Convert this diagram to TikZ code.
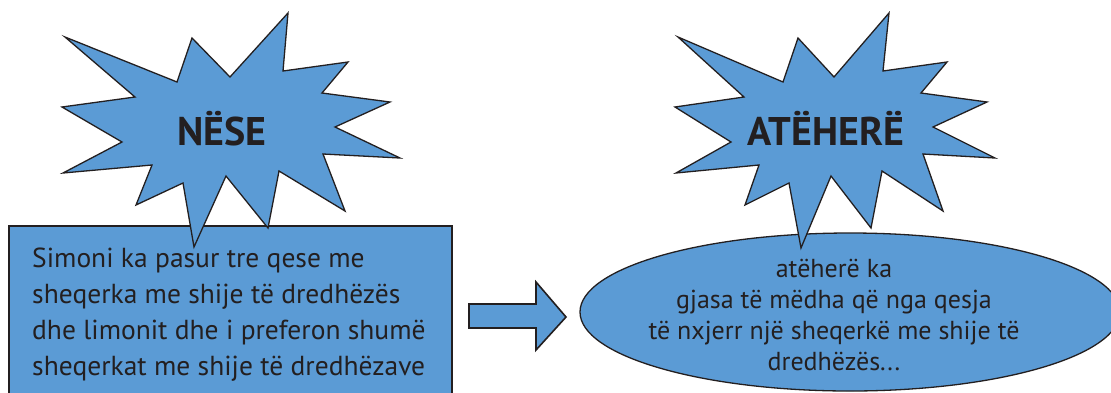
\documentclass[tikz,border=0pt]{standalone}
\usepackage{fontspec}
\setmainfont{PT Sans}
\definecolor{burstblue}{RGB}{91,155,213}
\definecolor{inkdark}{RGB}{35,31,32}
\tikzset{
  shapefill/.style={fill=burstblue, draw=inkdark, line width=1.3pt, line join=miter},
  headtext/.style={font=\fontsize{40}{40}\selectfont\bfseries, text=inkdark, inner sep=0pt},
  bodytext/.style={text=inkdark, inner sep=0pt}
}
\begin{document}
\begin{tikzpicture}[x=1pt,y=-1pt]
\clip (0,0) rectangle (1111,392);
\fill[white] (0,0) rectangle (1111,392);
% left box
\draw[shapefill] (9,226) -- (452,226) -- (452,400) -- (9,400) -- cycle;
% left starburst
\draw[shapefill] (65,37) -- (177,82) -- (192,38) -- (230,77) -- (288,13) -- (283,71)
  -- (348,62) -- (322,93) -- (390,102) -- (335,127) -- (400,158) -- (323,154)
  -- (345,211) -- (279,171) -- (268,228) -- (226,176) -- (194,247) -- (183,183)
  -- (136,205) -- (152,165) -- (63,173) -- (122,142) -- (62,107) -- (135,97) -- cycle;
\node[headtext, anchor=base] (nese) at (222,145) {NËSE};
\node[bodytext, anchor=base west, align=left, font=\fontsize{27.5}{35.7}\selectfont] (cond) at (32,375)
  {Simoni ka pasur tre qese me\\sheqerka me shije të dredhëzës\\dhe limonit dhe i preferon shumë\\sheqerkat me shije të dredhëzave};
% block arrow
\draw[shapefill, line width=1.6pt] (469,304) -- (536,304) -- (536,282) -- (566,317)
  -- (536,350) -- (536,328) -- (469,328) -- cycle;
% right ellipse
\draw[shapefill] (850,312) ellipse [x radius=270, y radius=79];
% right starburst
\draw[shapefill] (678,37) -- (783,82) -- (798,38) -- (834,77) -- (889,13) -- (883,71)
  -- (947,62) -- (921,93) -- (987,102) -- (933,127) -- (995,158) -- (923,154)
  -- (943,211) -- (882,171) -- (871,228) -- (831,176) -- (801,248) -- (789,183)
  -- (745,205) -- (759,165) -- (676,173) -- (731,142) -- (675,107) -- (744,97) -- cycle;
\node[headtext, anchor=base] (atehere) at (826,145) {ATËHERË};
\node[bodytext, anchor=base, align=center, font=\fontsize{26}{30.7}\selectfont] (result) at (834,370)
  {atëherë ka\\gjasa të mëdha që nga qesja\\të nxjerr një sheqerkë me shije të\\dredhëzës...};
\end{tikzpicture}
\end{document}
